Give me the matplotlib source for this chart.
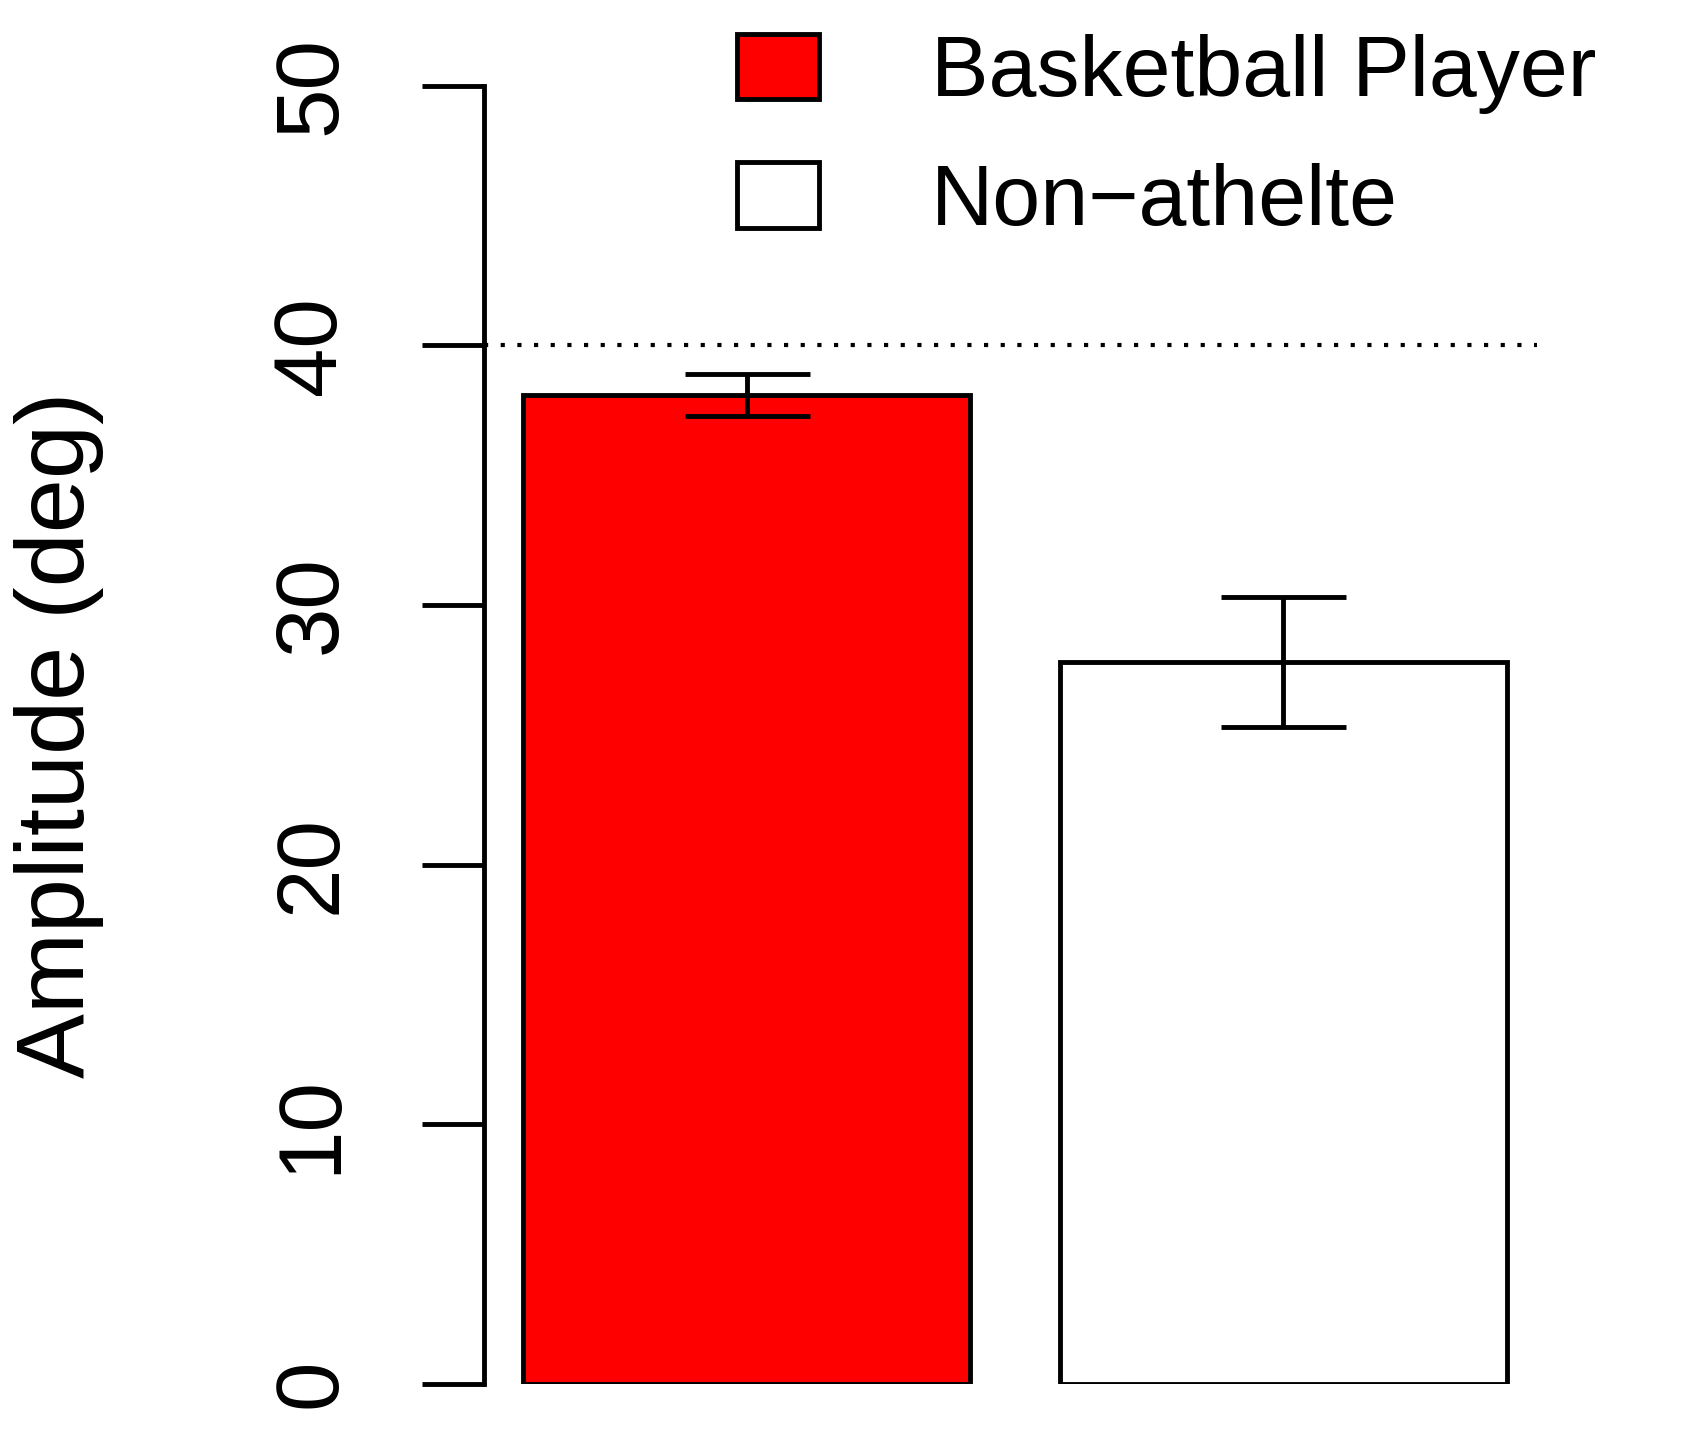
import matplotlib
matplotlib.use("Agg")
import matplotlib.pyplot as plt
from matplotlib.patches import Patch

groups = ["Basketball Player", "Non\u2212athelte"]
means = [38.1, 27.8]
errs = [0.8, 2.5]
colors = ["#ff0000", "#ffffff"]
yticks = [0, 10, 20, 30, 40, 50]

plt.rcParams['font.family'] = ['Liberation Sans', 'DejaVu Sans']
fig = plt.figure(figsize=(16.82, 14.55), dpi=100)
ax = fig.add_axes([0.2875, 0.049, 0.9137 - 0.2875, 0.892])
x = [0.7, 1.9]
ax.bar(x, means, width=1.0, color=colors, edgecolor='black', linewidth=3.5)
ax.errorbar(x, means, yerr=errs, fmt='none', ecolor='black', elinewidth=3.5, capsize=45, capthick=3.5)
ax.axhline(40, color='black', linestyle=(0, (1, 3)), linewidth=3)
ax.set_xlim(0.111, 2.467)
ax.set_ylim(0, 50)
for s in ['top', 'right', 'bottom']:
    ax.spines[s].set_visible(False)
ax.spines['left'].set_linewidth(3.5)
ax.set_xticks([])
ax.set_yticks(yticks)
ax.set_yticklabels([str(t) for t in yticks], rotation=90, va='center', fontsize=64)
ax.tick_params(axis='y', length=45, width=3.5, pad=48)
ax.set_ylabel("Amplitude (deg)", fontsize=70, labelpad=120)
handles = [Patch(facecolor=c, edgecolor='black', linewidth=3.5) for c in colors]
leg = ax.legend(handles, groups, loc='upper right', bbox_to_anchor=(1.13, 1.1), frameon=False,
                fontsize=62, handlelength=0.95, handleheight=0.8, handletextpad=1.3, labelspacing=0.55)
fig.savefig("out.png", dpi=100)
